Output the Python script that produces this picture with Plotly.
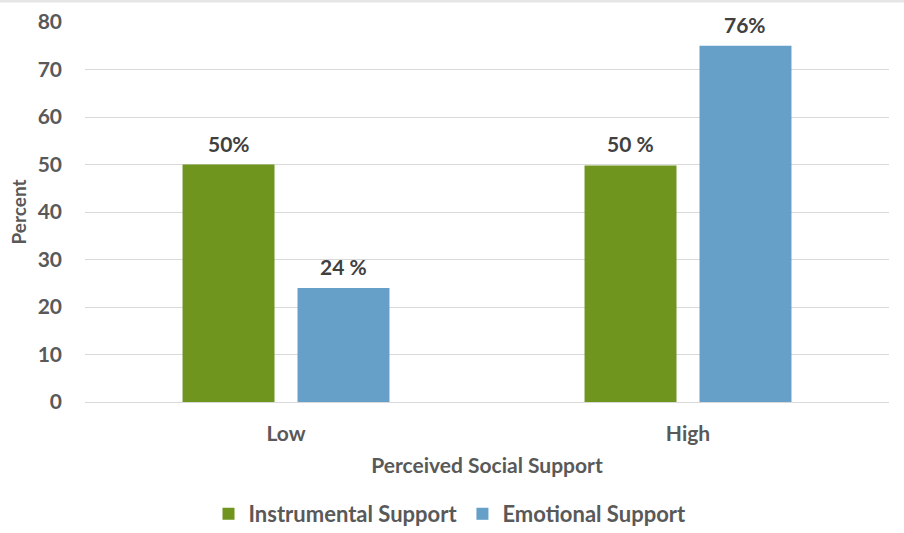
import plotly.graph_objects as go

categories = ["Low", "High"]
instrumental = [50, 49.8]
emotional = [24, 75]
instrumental_labels = ["50%", "50 %"]
emotional_labels = ["24 %", "76%"]
series_names = ["Instrumental Support", "Emotional Support"]
y_ticks = [0, 10, 20, 30, 40, 50, 60, 70, 80]

GREEN = "#6F951F"
BLUE = "#66A0C8"
FONT = "Lato"
TXT = "#595959"

W, H = 904, 533
ML, MR, MT, MB = 85, 15, 22, 131
BARGAP = 0.428
BARGROUPGAP = 0.2

fig = go.Figure()
fig.add_trace(go.Bar(name=series_names[0], x=categories, y=instrumental,
                     marker=dict(color=GREEN, line=dict(width=0))))
fig.add_trace(go.Bar(name=series_names[1], x=categories, y=emotional,
                     marker=dict(color=BLUE, line=dict(width=0))))

# data labels above bars
plot_w = W - ML - MR
plot_h = H - MT - MB
cat_w = plot_w / len(categories)
slot = cat_w * (1 - BARGAP) / 2
annotations = []
for vals, labs, sign in [(instrumental, instrumental_labels, -1), (emotional, emotional_labels, 1)]:
    for c, v, t in zip(categories, vals, labs):
        annotations.append(dict(x=c, y=v, text=t, showarrow=False, xref="x", yref="y",
                                yanchor="bottom", yshift=7, xshift=sign * slot / 2,
                                font=dict(family=FONT, size=21, color="#404040", weight="bold")))

fig.update_layout(
    width=W, height=H,
    margin=dict(l=ML, r=MR, t=MT, b=MB, autoexpand=False),
    paper_bgcolor="white", plot_bgcolor="white",
    barmode="group", bargap=BARGAP, bargroupgap=BARGROUPGAP,
    font=dict(family=FONT, color=TXT),
    annotations=annotations,
    showlegend=True,
    legend=dict(orientation="h", x=(450 - ML) / plot_w, xanchor="center",
                y=-(514 - (H - MB)) / plot_h, yanchor="middle",
                font=dict(family=FONT, size=22, color=TXT, weight="bold"),
                itemwidth=30, traceorder="normal"),
    xaxis=dict(showgrid=False, showline=False, zeroline=False, ticks="",
               tickfont=dict(family=FONT, size=21, color=TXT, weight="bold"),
               ticklabelstandoff=17,
               title=dict(text="Perceived Social Support", standoff=14,
                          font=dict(family=FONT, size=21, color=TXT, weight="bold"))),
    yaxis=dict(range=[0, 80], tickvals=y_ticks, showgrid=True, gridcolor="#d9d9d9",
               gridwidth=1, zeroline=True, zerolinecolor="#d9d9d9", zerolinewidth=1,
               showline=False, ticks="", ticklabelstandoff=22,
               tickfont=dict(family=FONT, size=21, color=TXT, weight="bold"),
               title=dict(text="Percent", standoff=5,
                          font=dict(family=FONT, size=19, color=TXT, weight="bold"))),
    shapes=[dict(type="line", xref="paper", yref="paper",
                 x0=-ML / plot_w, x1=1 + MR / plot_w,
                 y0=1 + (MT - 1) / plot_h, y1=1 + (MT - 1) / plot_h,
                 line=dict(color="#e6e6e6", width=3))],
)

fig.write_html("out.html", config={"displayModeBar": False},
               post_script="document.body.style.margin='0';document.body.style.overflow='hidden';")
